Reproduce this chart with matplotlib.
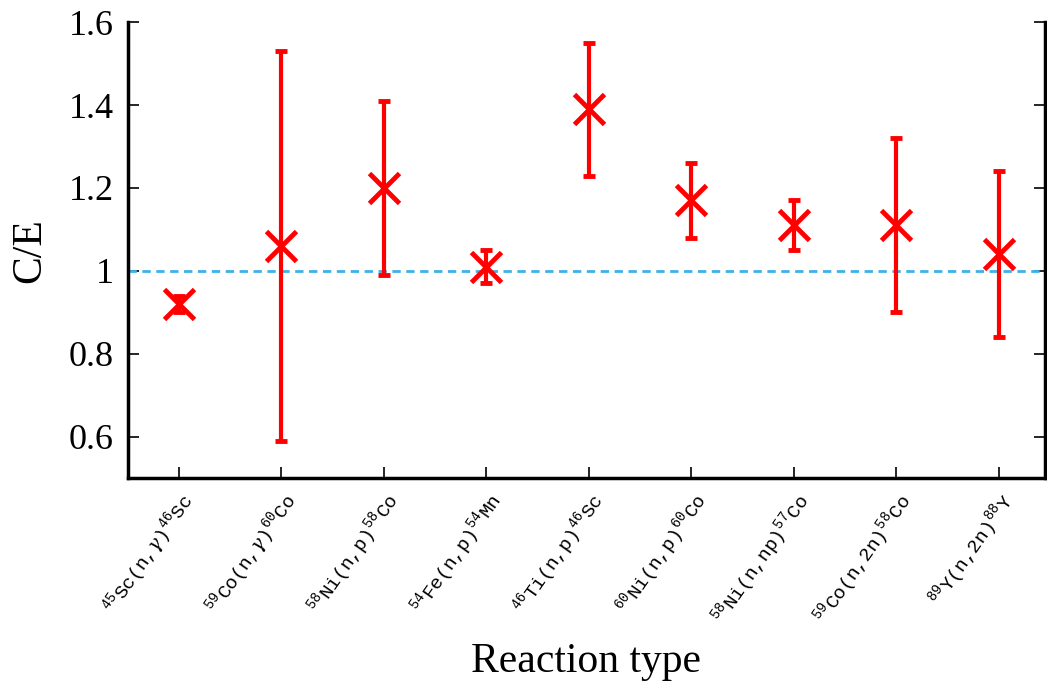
import matplotlib
matplotlib.use("Agg")
import matplotlib.pyplot as plt

plt.rcParams['mathtext.fontset'] = 'custom'
plt.rcParams['mathtext.rm'] = 'Liberation Mono'
plt.rcParams['mathtext.it'] = 'DejaVu Serif:italic'

labels = [r'$^{45}$Sc(n,$\gamma$)$^{46}$Sc', r'$^{59}$Co(n,$\gamma$)$^{60}$Co',
          r'$^{58}$Ni(n,p)$^{58}$Co', r'$^{54}$Fe(n,p)$^{54}$Mn',
          r'$^{46}$Ti(n,p)$^{46}$Sc', r'$^{60}$Ni(n,p)$^{60}$Co',
          r'$^{58}$Ni(n,np)$^{57}$Co', r'$^{59}$Co(n,2n)$^{58}$Co',
          r'$^{89}$Y(n,2n)$^{88}$Y']
ce = [0.92, 1.06, 1.20, 1.01, 1.39, 1.17, 1.11, 1.11, 1.04]
lo = [0.90, 0.59, 0.99, 0.97, 1.23, 1.08, 1.05, 0.90, 0.84]
hi = [0.94, 1.53, 1.41, 1.05, 1.55, 1.26, 1.17, 1.32, 1.24]

x = list(range(1, len(ce) + 1))
err = [[c - l for c, l in zip(ce, lo)], [h - c for c, h in zip(ce, hi)]]

fig = plt.figure(figsize=(10.47, 6.93), dpi=100)
ax = fig.add_axes([0.122, 0.31, 0.876, 0.658])
ax.axhline(1.0, color='#3fb0e8', ls=(0, (3, 2)), lw=2)
ax.errorbar(x, ce, yerr=err, fmt='x', color='red', ms=22, mew=3.5,
            elinewidth=3, capsize=4, capthick=3)
ax.set_xlim(0.5, 9.45)
ax.set_ylim(0.5, 1.6)
ax.set_yticks([0.6, 0.8, 1.0, 1.2, 1.4, 1.6])
ax.set_yticklabels(['0.6', '0.8', '1', '1.2', '1.4', '1.6'],
                   fontfamily='Liberation Serif', fontsize=26)
ax.set_xticks(x)
ax.set_xticklabels(labels, rotation=55, ha='right', rotation_mode='anchor',
                   fontfamily='Liberation Mono', fontsize=14)
ax.tick_params(axis='y', direction='in', right=True, length=8, width=1.2, pad=10)
ax.tick_params(axis='x', direction='in', length=8, width=1.2, pad=8)
ax.spines['top'].set_visible(False)
for s in ['left', 'right', 'bottom']:
    ax.spines[s].set_linewidth(2.5)
ax.set_ylabel('C/E', fontfamily='Liberation Serif', fontsize=30, labelpad=14)
ax.set_xlabel('Reaction type', fontfamily='Liberation Serif', fontsize=30, labelpad=10)
fig.savefig('out.png', dpi=100)
